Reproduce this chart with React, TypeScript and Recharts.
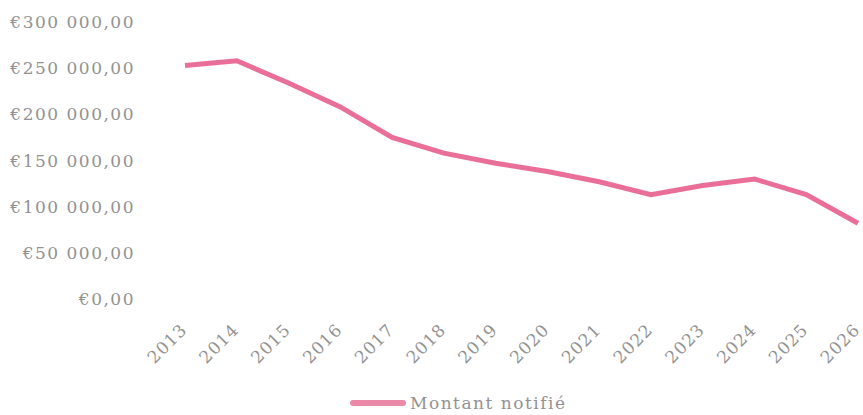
import React from 'react';
import { LineChart, Line, XAxis, YAxis, Legend } from 'recharts';

const years = ['2013', '2014', '2015', '2016', '2017', '2018', '2019', '2020', '2021', '2022', '2023', '2024', '2025', '2026'];
const montantNotifie = [253000, 258000, 234000, 208000, 175000, 158000, 147000, 138000, 127000, 113000, 123000, 130000, 113000, 82000];
const yTicks = [0, 50000, 100000, 150000, 200000, 250000, 300000];

const data = years.map((year, i) => ({ year, montant: montantNotifie[i] }));

const FONT = '"DejaVu Serif", serif';
const GREY = '#929292';
const PINK = '#e96f99';

const formatEuro = (v: number) => {
    const s = String(Math.round(v)).replace(/\B(?=(\d{3})+(?!\d))/g, ' ');
    return `€${s},00`;
};

const YearTick = ({ x, y, payload }: any) => (
    <text
        x={0}
        y={0}
        transform={`translate(${x + 3}, ${y + 24}) rotate(-45)`}
        textAnchor="end"
        fill={GREY}
        fontSize={17}
        fontFamily={FONT}
        style={{ letterSpacing: 1 }}
    >
        {payload.value}
    </text>
);

const LegendContent = () => (
    <div style={{ display: 'flex', alignItems: 'center', fontFamily: FONT, fontSize: 17, color: GREY, letterSpacing: 1.5 }}>
        <span style={{ display: 'inline-block', width: 56, height: 6, borderRadius: 3, background: '#ea8aa8', marginRight: 4 }} />
        <span>Montant notifié</span>
    </div>
);

export default function App() {
    return (
        <div style={{ position: 'absolute', left: 0, top: 0, width: 863, height: 415, background: '#fff' }}>
            <LineChart width={863} height={415} data={data} margin={{ top: 22, right: 5, bottom: 0, left: 0 }}>
                <XAxis dataKey="year" axisLine={false} tickLine={false} height={94} interval={0} tick={<YearTick />} />
                <YAxis
                    domain={[0, 300000]}
                    ticks={yTicks}
                    width={185}
                    axisLine={false}
                    tickLine={false}
                    tickSize={0}
                    tickMargin={50}
                    tickFormatter={formatEuro}
                    tick={{ fill: GREY, fontSize: 17, fontFamily: FONT, style: { letterSpacing: 1.5 } }}
                />
                <Legend
                    verticalAlign="bottom"
                    content={<LegendContent />}
                    wrapperStyle={{ left: 350, bottom: 0, width: 'auto', height: 22 }}
                />
                <Line
                    type="linear"
                    dataKey="montant"
                    name="Montant notifié"
                    stroke={PINK}
                    strokeWidth={5}
                    dot={false}
                    isAnimationActive={false}
                />
            </LineChart>
        </div>
    );
}
